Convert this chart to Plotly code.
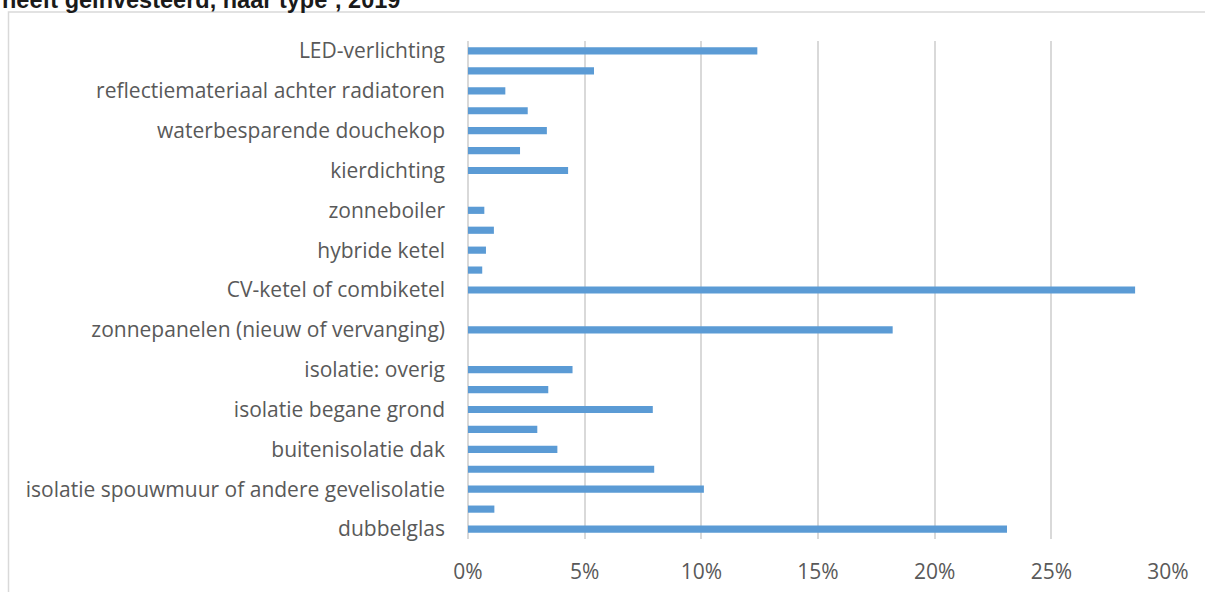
import plotly.graph_objects as go

# Categories listed top-to-bottom as they appear in the chart
categories = [
    "LED-verlichting",
    "spaarlampen",
    "reflectiemateriaal achter radiatoren",
    "thermostaatkranen",
    "waterbesparende douchekop",
    "slimme thermostaat",
    "kierdichting",
    "stadsverwarming",
    "zonneboiler",
    "warmtepomp",
    "hybride ketel",
    "infraroodpanelen",
    "CV-ketel of combiketel",
    "zonnepanelen (uitbreiding)",
    "zonnepanelen (nieuw of vervanging)",
    "ventilatie met warmteterugwinning",
    "isolatie: overig",
    "isolatie leidingen",
    "isolatie begane grond",
    "isolatie zolder",
    "buitenisolatie dak",
    "binnenisolatie dak",
    "isolatie spouwmuur of andere gevelisolatie",
    "driedubbelglas",
    "dubbelglas",
]
values = [12.4, 5.4, 1.6, 2.56, 3.38, 2.23, 4.29, None, 0.7, 1.11, 0.77, 0.61,
          28.59, None, 18.2, None, 4.48, 3.44, 7.92, 2.97, 3.83, 7.98, 10.11, 1.13, 23.1]
shown_labels = [
    "LED-verlichting",
    "reflectiemateriaal achter radiatoren",
    "waterbesparende douchekop",
    "kierdichting",
    "zonneboiler",
    "hybride ketel",
    "CV-ketel of combiketel",
    "zonnepanelen (nieuw of vervanging)",
    "isolatie: overig",
    "isolatie begane grond",
    "buitenisolatie dak",
    "isolatie spouwmuur of andere gevelisolatie",
    "dubbelglas",
]
x_ticks = [0, 5, 10, 15, 20, 25, 30]
title_text = "heeft geïnvesteerd, naar type¹, 2019"

W, H = 1205, 592
ml, mr, mt, mb = 468, 37, 41, 53
pw, ph = W - ml - mr, H - mt - mb

def px_x(p):
    return (p - ml) / pw

def px_y(p):
    return (H - mb - p) / ph

fig = go.Figure(go.Bar(
    x=values, y=categories, orientation="h",
    marker=dict(color="#5B9BD5", line=dict(width=0)),
    width=0.36,
))

font_main = "Open Sans, Noto Sans, Arial, sans-serif"

fig.update_layout(
    width=W, height=H,
    margin=dict(l=ml, r=mr, t=mt, b=mb, pad=0, autoexpand=False),
    paper_bgcolor="white", plot_bgcolor="white",
    showlegend=False,
    font=dict(family=font_main, size=21, color="#595959"),
    xaxis=dict(
        range=[0, 30], tickmode="array", tickvals=x_ticks,
        ticktext=[f"{v}%" for v in x_ticks],
        showgrid=True, gridcolor="#D9D9D9", gridwidth=2,
        zeroline=True, zerolinecolor="#D9D9D9", zerolinewidth=2,
        showline=False, ticks="", ticklabelstandoff=18,
        tickfont=dict(size=21, color="#595959"),
        fixedrange=True, automargin=False,
    ),
    yaxis=dict(
        type="category", categoryorder="array", categoryarray=categories,
        autorange="reversed",
        tickmode="array", tickvals=shown_labels, ticktext=shown_labels,
        showgrid=False, zeroline=False, showline=False, ticks="",
        ticklabelstandoff=22,
        tickfont=dict(size=21, color="#595959"),
        fixedrange=True, automargin=False,
    ),
    shapes=[dict(
        type="rect", xref="paper", yref="paper",
        x0=px_x(8.5), x1=px_x(1225), y0=px_y(610), y1=px_y(12),
        line=dict(color="#D9D9D9", width=1.5), fillcolor="rgba(0,0,0,0)",
        layer="below",
    )],
    annotations=[dict(
        text=f"<b>{title_text}</b>", xref="paper", yref="paper",
        x=px_x(0), y=px_y(15), xanchor="left", yanchor="bottom",
        showarrow=False, font=dict(family="Liberation Sans, Arial, sans-serif", size=23.5, color="#1a1a1a"),
    )],
)

fig.write_html(
    "out.html",
    config={"displayModeBar": False},
    post_script="document.body.style.margin='0';document.body.style.overflow='hidden';",
)
